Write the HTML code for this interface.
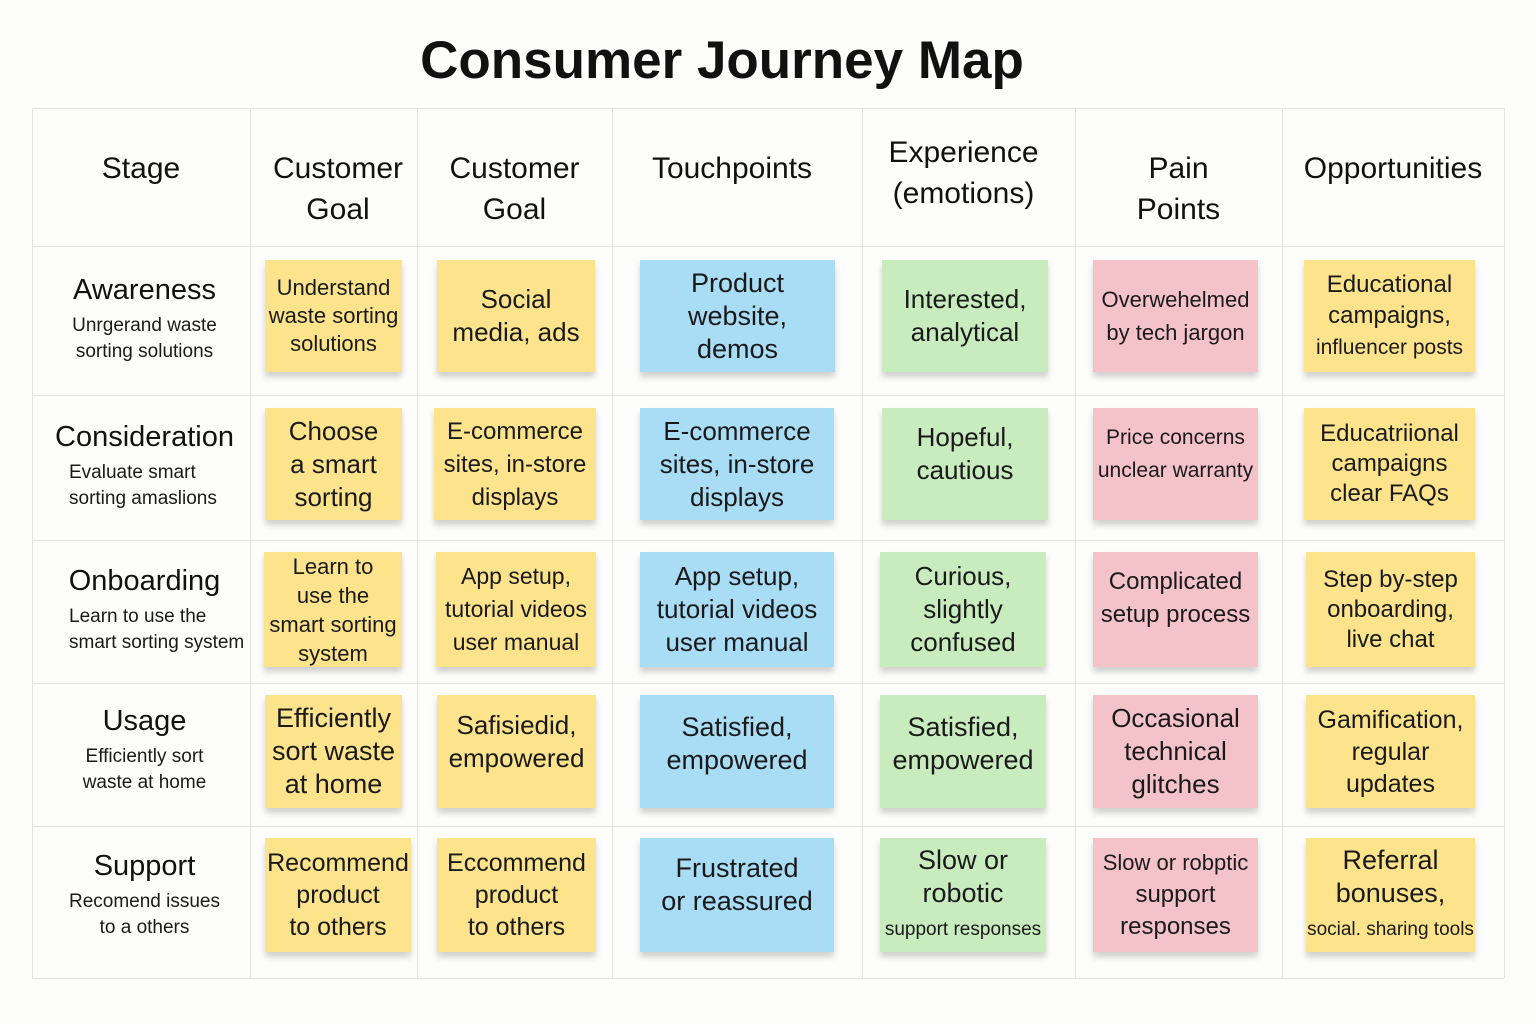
<!DOCTYPE html>
<html><head><meta charset="utf-8"><style>
body{margin:0;width:1536px;height:1024px;background:#fdfdfc;font-family:"Liberation Sans","DejaVu Sans",sans-serif;position:relative;overflow:hidden;color:#1a1a1a}
.t{position:absolute;left:0;width:1444px;top:30px;text-align:center;font-size:53px;font-weight:bold;color:#111}
.v{position:absolute;width:1px;background:#e2e2e2;top:108px;height:870px}
.h{position:absolute;height:1px;background:#e2e2e2;left:32px;width:1472px}
.hd{position:absolute;top:108px;height:138px;display:flex;align-items:center;justify-content:center;text-align:center;font-size:30px;line-height:41px;color:#111;box-sizing:border-box}
.st{position:absolute;left:32px;width:225px;text-align:center}
.st b{display:block;font-size:29px;font-weight:normal;color:#111;margin-bottom:6px}
.st span{font-size:19px;line-height:26px;display:block}
.n{position:absolute;display:flex;align-items:center;justify-content:center;text-align:center;font-size:26px;line-height:33px;box-shadow:0 5px 6px rgba(0,0,0,0.18);color:#1a1a1a;box-sizing:border-box}
.y{background:#fce38c}.b{background:#a9dcf5}.g{background:#c9ecbf}.p{background:#f4c3c9}
</style></head><body>
<div class="t">Consumer Journey Map</div>
<div class="h" style="top:108px"></div><div class="h" style="top:246px"></div><div class="h" style="top:395px"></div><div class="h" style="top:540px"></div><div class="h" style="top:683px"></div><div class="h" style="top:826px"></div><div class="h" style="top:978px"></div>
<div class="v" style="left:32px"></div><div class="v" style="left:250px"></div><div class="v" style="left:417px"></div><div class="v" style="left:612px"></div><div class="v" style="left:862px"></div><div class="v" style="left:1075px"></div><div class="v" style="left:1282px"></div><div class="v" style="left:1504px"></div>
<div class="hd" style="left:32px;width:218px;padding-bottom:18px">Stage</div>
<div class="hd" style="left:258px;width:160px;padding-top:24px">Customer<br>Goal</div>
<div class="hd" style="left:417px;width:195px;padding-top:24px">Customer<br>Goal</div>
<div class="hd" style="left:612px;width:240px;padding-bottom:18px">Touchpoints</div>
<div class="hd" style="left:862px;width:203px;padding-bottom:8px">Experience<br>(emotions)</div>
<div class="hd" style="left:1075px;width:207px;padding-top:24px">Pain<br>Points</div>
<div class="hd" style="left:1282px;width:222px;padding-bottom:18px">Opportunities</div>

<div class="st" style="top:274px"><b>Awareness</b><span>Unrgerand waste<br>sorting solutions</span></div>
<div class="st" style="top:421px"><b>Consideration</b><span style="text-align:left;padding-left:37px">Evaluate smart<br>sorting amaslions</span></div>
<div class="st" style="top:565px"><b>Onboarding</b><span style="text-align:left;padding-left:37px">Learn to use the<br>smart sorting system</span></div>
<div class="st" style="top:705px"><b>Usage</b><span>Efficiently sort<br>waste at home</span></div>
<div class="st" style="top:850px"><b>Support</b><span>Recomend issues<br>to a others</span></div>

<!-- row1 -->
<div class="n y" style="left:265px;top:260px;width:137px;height:112px;font-size:22px;line-height:28px"><div>Understand<br>waste sorting<br>solutions</div></div>
<div class="n y" style="left:437px;top:260px;width:158px;height:112px"><div>Social<br>media, ads</div></div>
<div class="n b" style="left:640px;top:260px;width:195px;height:112px;font-size:27px"><div>Product<br>website,<br>demos</div></div>
<div class="n g" style="left:882px;top:260px;width:166px;height:112px"><div>Interested,<br>analytical</div></div>
<div class="n p" style="left:1093px;top:260px;width:165px;height:112px;font-size:22px"><div>Overwehelmed<br>by tech jargon</div></div>
<div class="n y" style="left:1304px;top:260px;width:171px;height:112px;font-size:24px;line-height:31px"><div>Educational<br>campaigns,<br><span style="font-size:21px">influencer posts</span></div></div>
<!-- row2 -->
<div class="n y" style="left:265px;top:408px;width:137px;height:112px"><div>Choose<br>a smart<br>sorting</div></div>
<div class="n y" style="left:434px;top:408px;width:162px;height:112px;font-size:24px"><div>E-commerce<br>sites, in-store<br>displays</div></div>
<div class="n b" style="left:640px;top:408px;width:194px;height:112px;font-size:26px"><div>E-commerce<br>sites, in-store<br>displays</div></div>
<div class="n g" style="left:882px;top:408px;width:166px;height:112px;padding-bottom:20px"><div>Hopeful,<br>cautious</div></div>
<div class="n p" style="left:1093px;top:408px;width:165px;height:112px;font-size:21px;padding-bottom:20px"><div>Price concerns<br>unclear warranty</div></div>
<div class="n y" style="left:1304px;top:408px;width:171px;height:112px;font-size:24px;line-height:30px"><div>Educatriional<br>campaigns<br>clear FAQs</div></div>
<!-- row3 -->
<div class="n y" style="left:264px;top:552px;width:138px;height:115px;font-size:22px;line-height:29px"><div>Learn to<br>use the<br>smart sorting<br>system</div></div>
<div class="n y" style="left:436px;top:552px;width:160px;height:115px;font-size:23px"><div>App setup,<br>tutorial videos<br>user manual</div></div>
<div class="n b" style="left:640px;top:552px;width:194px;height:115px;font-size:26px"><div>App setup,<br>tutorial videos<br>user manual</div></div>
<div class="n g" style="left:880px;top:552px;width:166px;height:115px"><div>Curious,<br>slightly<br>confused</div></div>
<div class="n p" style="left:1093px;top:552px;width:165px;height:115px;font-size:24px;padding-bottom:24px"><div>Complicated<br>setup process</div></div>
<div class="n y" style="left:1306px;top:552px;width:169px;height:115px;font-size:24px;line-height:30px"><div>Step by-step<br>onboarding,<br>live chat</div></div>
<!-- row4 -->
<div class="n y" style="left:265px;top:695px;width:137px;height:113px;font-size:27px"><div>Efficiently<br>sort waste<br>at home</div></div>
<div class="n y" style="left:437px;top:695px;width:159px;height:113px;padding-bottom:20px"><div>Safisiedid,<br>empowered</div></div>
<div class="n b" style="left:640px;top:695px;width:194px;height:113px;font-size:27px;padding-bottom:16px"><div>Satisfied,<br>empowered</div></div>
<div class="n g" style="left:880px;top:695px;width:166px;height:113px;font-size:27px;padding-bottom:16px"><div>Satisfied,<br>empowered</div></div>
<div class="n p" style="left:1093px;top:695px;width:165px;height:113px"><div>Occasional<br>technical<br>glitches</div></div>
<div class="n y" style="left:1306px;top:695px;width:169px;height:113px;font-size:25px;line-height:32px"><div>Gamification,<br>regular<br>updates</div></div>
<!-- row5 -->
<div class="n y" style="left:265px;top:838px;width:146px;height:114px;font-size:25px;line-height:32px"><div>Recommend<br>product<br>to others</div></div>
<div class="n y" style="left:437px;top:838px;width:159px;height:114px;font-size:25px;line-height:32px"><div>Eccommend<br>product<br>to others</div></div>
<div class="n b" style="left:640px;top:838px;width:194px;height:114px;font-size:27px;padding-bottom:20px"><div>Frustrated<br>or reassured</div></div>
<div class="n g" style="left:880px;top:838px;width:166px;height:114px;font-size:27px"><div>Slow or<br>robotic<br><span style="font-size:19px">support responses</span></div></div>
<div class="n p" style="left:1093px;top:838px;width:165px;height:114px;font-size:24px;line-height:32px"><div><span style="font-size:22px">Slow or robptic</span><br>support<br>responses</div></div>
<div class="n y" style="left:1306px;top:838px;width:169px;height:114px;font-size:27px;line-height:33px"><div>Referral<br>bonuses,<br><span style="font-size:19px">social. sharing tools</span></div></div>
</body></html>
